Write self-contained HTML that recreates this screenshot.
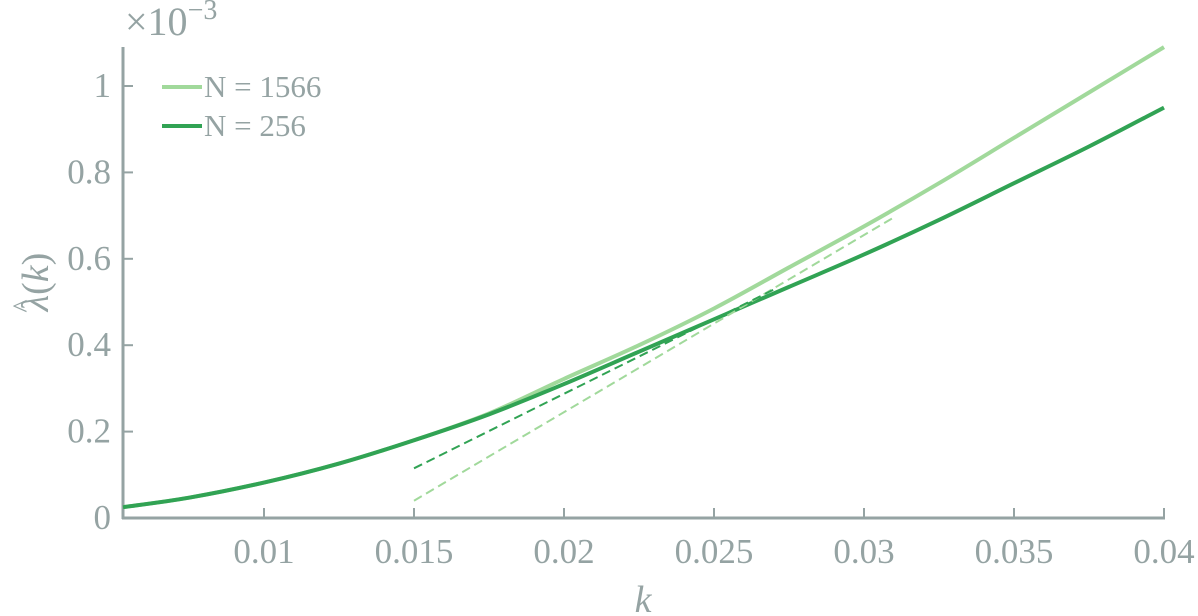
<!DOCTYPE html>
<html><head><meta charset="utf-8"><style>
body{margin:0;background:#fff}
svg{display:block}
text{fill:#95a3a3;font-family:"Liberation Serif","DejaVu Serif",serif}
</style></head><body>
<svg id="c" width="1198" height="616"></svg>
<script>
const xs=[0.0053,0.0075,0.01,0.0125,0.015,0.0175,0.02,0.0225,0.025,0.0275,0.03,0.0325,0.035,0.0375,0.04];
const n256=[0.025,0.047,0.082,0.126,0.18,0.24,0.31,0.385,0.46,0.535,0.61,0.69,0.775,0.86,0.95];
const n1566=[0.025,0.047,0.082,0.126,0.18,0.242,0.322,0.40,0.485,0.58,0.675,0.775,0.88,0.985,1.09];
const fit256X=[0.015,0.027];const fit256Y=[0.115,0.529];
const fit1566X=[0.015,0.031];const fit1566Y=[0.04,0.696];
const xTicks=[0.01,0.015,0.02,0.025,0.03,0.035,0.04];
const xLabels=["0.01","0.015","0.02","0.025","0.03","0.035","0.04"];
const yTicks=[0,0.2,0.4,0.6,0.8,1];
const yLabels=["0","0.2","0.4","0.6","0.8","1"];
const X=v=>123+(v-0.0053)*30000;
const Y=v=>518-v*432;
const svg=document.getElementById('c');const NS='http://www.w3.org/2000/svg';
function mk(t,a,p){const e=document.createElementNS(NS,t);for(const k in a)e.setAttribute(k,a[k]);(p||svg).appendChild(e);return e;}
const G='#95a3a3';const F='"Liberation Serif", serif';
function smooth(px,py){let d=`M${px[0]},${py[0]}`;for(let i=0;i<px.length-1;i++){const p0=i?i-1:i,p3=i+2<px.length?i+2:i+1;
const c1x=px[i]+(px[i+1]-px[p0])/6,c1y=py[i]+(py[i+1]-py[p0])/6,c2x=px[i+1]-(px[p3]-px[i])/6,c2y=py[i+1]-(py[p3]-py[i])/6;
d+=` C${c1x},${c1y} ${c2x},${c2y} ${px[i+1]},${py[i+1]}`;}return d;}
let e;
e=mk('line',{x1:123,y1:47,x2:123,y2:519,stroke:G,'stroke-width':3});

e=mk('line',{x1:122,y1:518,x2:1165,y2:518,stroke:G,'stroke-width':3});

xTicks.forEach((t,i)=>{e=mk('line',{x1:X(t),y1:518,x2:X(t),y2:508,stroke:G,'stroke-width':2});

e=mk('text',{x:X(t),y:563,'text-anchor':'middle','font-size':35,'font-family':F});e.textContent=xLabels[i];
});
yTicks.forEach((t,i)=>{e=mk('line',{x1:123,y1:Y(t),x2:133,y2:Y(t),stroke:G,'stroke-width':2});

e=mk('text',{x:111,y:Y(t)+11,'text-anchor':'end','font-size':35,'font-family':F});e.textContent=yLabels[i];
});
e=mk('path',{d:smooth(xs.map(X),n1566.map(Y)),fill:'none',stroke:'#a1d99b','stroke-width':4});

e=mk('path',{d:smooth(xs.map(X),n256.map(Y)),fill:'none',stroke:'#31a354','stroke-width':4});

e=mk('line',{x1:X(fit1566X[0]),y1:Y(fit1566Y[0]),x2:X(fit1566X[1]),y2:Y(fit1566Y[1]),stroke:'#a1d99b','stroke-width':2,'stroke-dasharray':'9,5'});

e=mk('line',{x1:X(fit256X[0]),y1:Y(fit256Y[0]),x2:X(fit256X[1]),y2:Y(fit256Y[1]),stroke:'#31a354','stroke-width':2,'stroke-dasharray':'9,5'});

</script>
<svg style="position:absolute;left:0;top:0" width="1198" height="616">
<text x="125" y="35" font-size="40" font-family="Liberation Serif, serif">×10<tspan dy="-16" font-size="28">−3</tspan></text>
<line x1="162" y1="87" x2="202" y2="87" stroke="#a1d99b" stroke-width="4"/>
<text x="204" y="97" font-size="31" font-family="Liberation Serif, serif">N = 1566</text>
<line x1="162" y1="126" x2="202" y2="126" stroke="#31a354" stroke-width="4"/>
<text x="204" y="136" font-size="31" font-family="Liberation Serif, serif">N = 256</text>
<text x="643" y="612" font-size="38" font-style="italic" font-family="Liberation Serif, serif" text-anchor="middle">k</text>
<g transform="translate(48,282) rotate(-90)">
<text x="0" y="0" font-size="38" font-family="Liberation Serif, serif" text-anchor="middle"><tspan font-style="italic">λ</tspan>(<tspan font-style="italic">k</tspan>)</text>
<text x="-24" y="-16" font-size="28" font-family="Liberation Serif, serif" text-anchor="middle">^</text>
</g>
</svg>
</body></html>
